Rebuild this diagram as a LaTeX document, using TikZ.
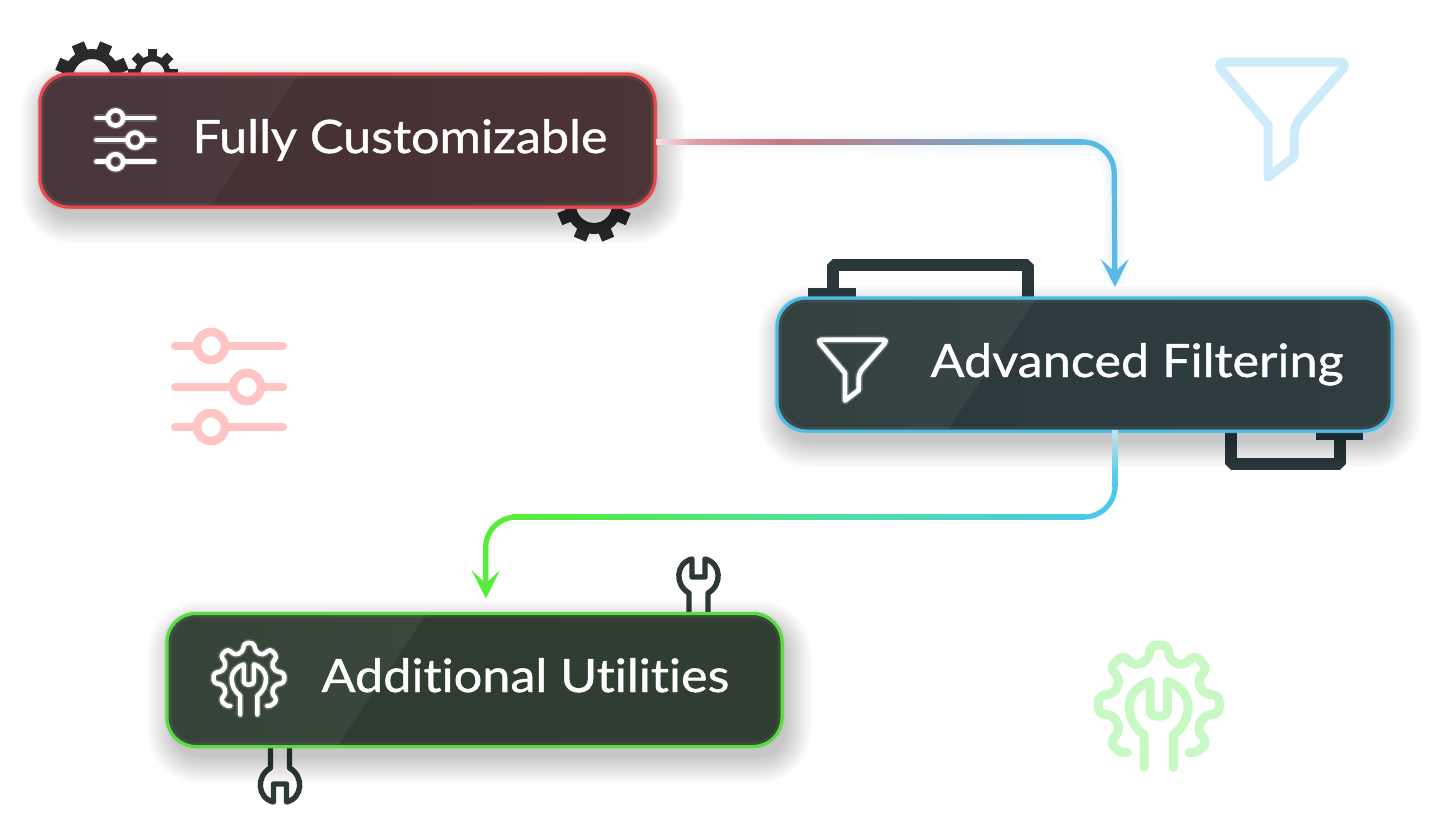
\documentclass[tikz,border=0pt]{standalone}
\usepackage{fontspec}
\setmainfont{Lato}[FakeBold=0.9,FakeStretch=1.095,Ligatures=NoCommon]
\usetikzlibrary{calc,arrows.meta}
\definecolor{gearc}{HTML}{2B2A2D}
\definecolor{bracketc}{HTML}{2A383B}
\definecolor{wrenchc}{HTML}{2C3A33}
\definecolor{redb}{HTML}{E5484D}
\definecolor{blueb}{HTML}{4CBCE6}
\definecolor{greenb}{HTML}{58DC42}
\definecolor{paleg}{HTML}{C8F8C3}
\definecolor{paleb}{HTML}{CDEBF8}
\definecolor{palep}{HTML}{FFC5C5}
\definecolor{arrb}{HTML}{5BB9E4}
\definecolor{arrg}{HTML}{55EE3A}
\definecolor{cyanc}{HTML}{4CC9E8}
\definecolor{ra1}{HTML}{47353A}\definecolor{ra2}{HTML}{4C3A3D}\definecolor{ra3}{HTML}{453033}\definecolor{ra4}{HTML}{4B3336}
\definecolor{ba1}{HTML}{33403F}\definecolor{ba2}{HTML}{384547}\definecolor{ba3}{HTML}{2C3A3D}\definecolor{ba4}{HTML}{2F3D40}
\definecolor{ga1}{HTML}{364338}\definecolor{ga2}{HTML}{3A483C}\definecolor{ga3}{HTML}{2F3D30}\definecolor{ga4}{HTML}{303E31}
\definecolor{g1}{HTML}{F6E0E0}\definecolor{g2}{HTML}{DD9FA5}\definecolor{g3}{HTML}{C7787F}
\definecolor{g4}{HTML}{C3E4EC}\definecolor{g5}{HTML}{4FE29A}\definecolor{g6}{HTML}{52EA4E}
\tikzset{
  x=1pt,y=-1pt,
  flowbox/.style={rectangle,rounded corners=29pt,minimum width=615pt,minimum height=133pt,line width=3pt,outer sep=0pt,inner sep=0pt},
  flowlabel/.style={anchor=base west,text=white,font=\fontsize{46}{46}\selectfont,inner sep=0pt,outer sep=0pt},
  arrowline/.style={line width=5.2pt,line join=round},
  tip/.style={-{Stealth[length=28pt,width=28pt,inset=13pt]}},
  iconline/.style={line cap=round,line join=round},
  bracket/.style={bracketc,line width=12pt,line join=bevel},
}
% gear: x y tip ring hole toothwidth startangle
\newcommand\gearshape[7]{%
  \begin{scope}[shift={(#1,#2)}]
    \draw[gearc,line width={(#4-#5)*1pt}] (0,0) circle[radius={(#4+#5)/2}];
    \foreach \a in {0,45,...,315}{\draw[gearc,line width=#6pt] ({\a+#7}:#5+2) -- ({\a+#7}:#3);}
  \end{scope}}
% wrench: x y rotation
\newcommand\wrenchshape[3]{%
  \begin{scope}[shift={(#1,#2)},rotate=#3]
    \draw[wrenchc,line width=5.4pt,line join=round,line cap=round]
      (-9.5,36) -- (-9.5,16) .. controls (-24,8) and (-23,-14) .. (-6.5,-18) -- (-6.5,0) -- (6.5,0) -- (6.5,-18)
      .. controls (23,-14) and (24,8) .. (9.5,16) -- (9.5,36);
  \end{scope}}
% funnel: x y scale style lw radius
\newcommand\funnelicon[6]{%
  \begin{scope}[shift={(#1,#2)},scale=#3]
    \draw[iconline,#4,line width=#5pt]
      (65,5) [rounded corners=#6pt] -- (132,5) -- (77,68) [sharp corners] -- (77,100) -- (51,120) -- (51,68)
      [rounded corners=#6pt] -- (-2,5) -- cycle;
  \end{scope}}
% sliders: x y scale style line width
\newcommand\slidericon[5]{%
  \begin{scope}[shift={(#1,#2)},scale=#3]
    \foreach \yy/\cx in {0/40,41/76,81/40}{
      \draw[iconline,#4,line width=#5pt] (4.3,\yy) -- (\cx-14,\yy);
      \draw[iconline,#4,line width=#5pt] (\cx+14,\yy) -- (111.7,\yy);
      \draw[#4,line width=#5pt] (\cx,\yy) circle[radius=14];
    }
  \end{scope}}
% gear + wrench: x y scale style lw radius
\newcommand\gearwrench[6]{%
  \begin{scope}[shift={(#1,#2)},scale=#3]
    \draw[iconline,#4,line width=#5pt,rounded corners=#6pt]
      (140,368) -- (125,372) -- (90,338) -- (120,300) -- (103,258) -- (55,250) -- (55,198) -- (103,190) -- (120,148)
      -- (90,112) -- (128,75) -- (165,108) -- (205,90) -- (212,45) -- (262,45) -- (270,90) -- (308,108) -- (345,75)
      -- (382,115) -- (352,150) -- (370,190) -- (418,198) -- (418,250) -- (370,258) -- (352,300) -- (382,338)
      -- (345,372) -- (330,368);
    \draw[iconline,#4,line width=#5pt]
      (192,412) -- (192,315) .. controls (160,290) and (148,262) .. (148,225) .. controls (148,195) and (175,165) .. (210,155)
      [rounded corners=#6pt] -- (210,258) -- (262,258) [sharp corners] -- (262,155)
      .. controls (297,165) and (324,195) .. (324,225) .. controls (324,262) and (312,290) .. (280,315) -- (280,412);
  \end{scope}}
% box: name cx cy border left-from left-to right-from right-to
\newcommand\flowblock[8]{%
  \foreach \k in {1,...,14}{
    \pgfmathsetmacro\ex{\k*2-5}
    \fill[black,opacity=0.017,rounded corners={(29+\ex)*1pt}]
      ({#2-309-\ex+5},{#3-68-\ex+12}) rectangle ({#2+309+\ex+5},{#3+68+\ex+12});
  }
  \fill[#4,opacity=0.15,rounded corners=31pt] ({#2-310.5},{#3-69}) rectangle ({#2+310.5},{#3+69});
  \node[flowbox,draw=#4,fill=#5] (#1) at (#2,#3) {};
  \begin{scope}
    \clip[rounded corners=27.5pt] ($(#1.north west)+(1.5,1.5)$) rectangle ($(#1.south east)+(-1.5,-1.5)$);
    \shade[left color=#5,right color=#6] (#1.north west) -- ($(#1.north west)+(260,0)$) -- ($(#1.south west)+(170,0)$) -- (#1.south west) -- cycle;
    \shade[left color=#7,right color=#8] ($(#1.north west)+(260,0)$) -- (#1.north east) -- (#1.south east) -- ($(#1.south west)+(170,0)$) -- cycle;
  \end{scope}
  \draw[white,opacity=0.06,line width=3pt,rounded corners=26pt] ($(#1.north west)+(3,3)$) rectangle ($(#1.south east)+(-3,-3)$);
  \draw[#4,line width=3pt,rounded corners=29pt] (#1.north west) rectangle (#1.south east);
}
% gradient run: from to colourA colourB steps
\newcommand\gradrun[5]{%
  \foreach \i in {1,...,#5}{
    \pgfmathsetmacro\pa{(\i-1)/#5}\pgfmathsetmacro\pb{\i/#5}\pgfmathsetmacro\pc{100*(\i-0.5)/#5}
    \draw[arrowline,line cap=rect,draw={#4!\pc!#3}] ($(#1)!\pa!(#2)$) -- ($(#1)!\pb!(#2)$);
  }}
\begin{document}
\begin{tikzpicture}
\useasboundingbox (0,0) rectangle (1443,814);
\fill[white] (0,0) rectangle (1443,814);
% pale corner icons
\funnelicon{1217}{57}{1}{paleb}{9}{10}
\slidericon{171}{346}{1}{palep}{8.6}
\gearwrench{1080}{630}{0.3333}{paleg}{9}{6}
% decorations behind the boxes
\gearshape{92}{78}{37}{29}{19}{13}{22.5}
\gearshape{152.5}{73.5}{25}{18}{12}{9}{0}
\gearshape{594}{205}{37}{29}{18}{13}{22.5}
\draw[bracket] (832.5,300) -- (832.5,265) -- (1027.5,265) -- (1027.5,300);
\fill[bracketc] (808,288) rectangle (856,300);
\draw[bracket] (1230.5,430) -- (1230.5,463.5) -- (1339.5,463.5) -- (1339.5,430);
\fill[bracketc] (1316,430) rectangle (1363,440);
\wrenchshape{698.5}{577}{0}
\wrenchshape{280}{784}{180}
% boxes
\flowblock{nodeA}{347.5}{140.5}{redb}{ra1}{ra2}{ra3}{ra4}
\flowblock{nodeB}{1084.5}{364.5}{blueb}{ba1}{ba2}{ba3}{ba4}
\flowblock{nodeC}{474.5}{680}{greenb}{ga1}{ga2}{ga3}{ga4}
% connectors
\coordinate (a0) at ($(nodeA.east)+(4,1.5)$);
\coordinate (a1) at ($(nodeA.east)+(45,1.5)$);
\coordinate (a2) at ($(nodeA.east)+(130,1.5)$);
\coordinate (a3) at ($(nodeA.east)+(426,1.5)$);
\coordinate (acorner) at ($(nodeA.east)+(459,1.5)$);
\coordinate (bin) at ($(nodeB.north)+(30.5,0)$);
\coordinate (bout) at ($(nodeB.south)+(30.5,2)$);
\coordinate (b1) at ($(nodeB.south)+(30.5,53)$);
\coordinate (bcorner) at ($(nodeB.south)+(30.5,86)$);
\coordinate (b2) at ($(nodeB.south)+(-2,86)$);
\coordinate (b3) at ($(nodeB.south)+(-285,86)$);
\coordinate (b4) at ($(nodeB.south)+(-485,86)$);
\coordinate (b5) at ($(nodeB.south)+(-570,86)$);
\coordinate (ccorner) at ($(nodeB.south)+(-599,86)$);
\coordinate (cin) at ($(nodeC.north)+(11.5,0)$);
% soft halo round the first connector
\foreach \hw in {5,8,11}{
  \shade[left color=g1,right color=arrb,opacity=0.035] ($(a0)+(0,-\hw)$) rectangle ($(a3)+(0,\hw)$);
  \draw[arrb,opacity=0.035,line width={2*\hw*1pt},rounded corners=31pt,shorten >=14pt] (a3) -- (acorner) -- (bin);
}
\gradrun{a0}{a1}{g1}{g2}{10}
\gradrun{a1}{a2}{g2}{g3}{14}
\gradrun{a2}{a3}{g3}{arrb}{60}
\draw[arrowline,tip,arrb,rounded corners=31pt,shorten >=11pt] (a3) -- (acorner) -- (bin);
\gradrun{bout}{b1}{g4}{cyanc}{14}
\draw[arrowline,cyanc,rounded corners=31pt] (b1) -- (bcorner) -- (b2);
\gradrun{b2}{b3}{cyanc}{g5}{40}
\gradrun{b3}{b4}{g5}{g6}{30}
\gradrun{b4}{b5}{g6}{arrg}{12}
\draw[arrowline,tip,arrg,rounded corners=31pt,shorten >=15pt] (b5) -- (ccorner) -- (cin);
% icons inside boxes
\slidericon{94}{118}{0.54}{white,opacity=0.18}{7.5}
\slidericon{94}{118}{0.54}{white}{4.6}
\funnelicon{818}{337}{0.53}{white,opacity=0.18}{8}{5}
\funnelicon{818}{337}{0.53}{white}{4.8}{5}
\gearwrench{202.8}{634.2}{0.195}{white,opacity=0.18}{7.5}{3.5}
\gearwrench{202.8}{634.2}{0.195}{white}{4.5}{3.5}
% labels
\node[flowlabel] (labelA) at (192.5,153) {Fully Customizable};
\node[flowlabel] (labelB) at (930.5,377) {Advanced Filtering};
\node[flowlabel] (labelC) at (321.5,692) {Additional Utilities};
\end{tikzpicture}
\end{document}
